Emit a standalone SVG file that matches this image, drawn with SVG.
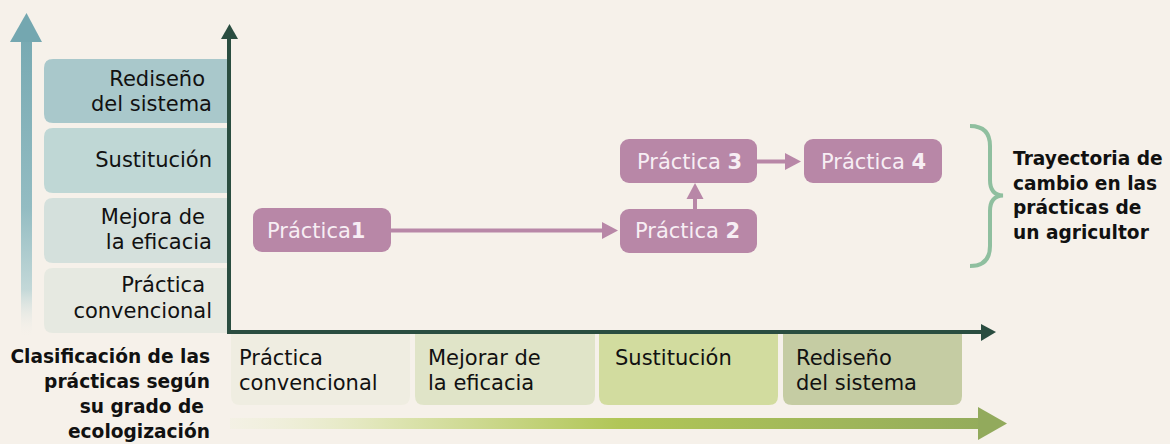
<svg xmlns="http://www.w3.org/2000/svg" width="1170" height="444" viewBox="0 0 1170 444">
<defs>
<linearGradient id="gTeal" x1="0" y1="13" x2="0" y2="338" gradientUnits="userSpaceOnUse">
<stop offset="0" stop-color="#74a7b0"/>
<stop offset="0.6" stop-color="#93bcc2"/>
<stop offset="0.85" stop-color="#c3d8d8"/>
<stop offset="1" stop-color="#f6f1ea" stop-opacity="0"/>
</linearGradient>
<linearGradient id="gGreen" x1="230" y1="0" x2="1007" y2="0" gradientUnits="userSpaceOnUse">
<stop offset="0" stop-color="#eef0d8" stop-opacity="0.3"/>
<stop offset="0.2" stop-color="#dfe5b5"/>
<stop offset="0.5" stop-color="#b1c657"/>
<stop offset="1" stop-color="#92aa5c"/>
</linearGradient>
<style>
text{font-family:"DejaVu Sans","Open Sans","Liberation Sans",sans-serif;fill:#111;}
.lbl{font-size:21px;}
.end{text-anchor:end;}
.bold{font-weight:bold;font-size:18.6px;}
.pk rect{fill:#b887a7;}
.pk text{fill:#f7eef4;font-size:21px;}
.pk tspan.n{font-weight:bold;}
.con{stroke:#b887a7;stroke-width:4;fill:none;}
.axis{stroke:#2a4d40;stroke-width:4;fill:none;}
</style>
</defs>
<rect width="1170" height="444" fill="#f6f1ea"/>

<!-- left gradient arrow -->
<g id="vert-arrow">
<rect x="21" y="40" width="11" height="298" fill="url(#gTeal)"/>
<path d="M10,42 L26.5,13 L42,42 Z" fill="#74a7b0"/>
</g>

<!-- left classification boxes -->
<g id="lv-redisenio">
<path d="M231,59 V123 H53 Q44,123 44,114 V68 Q44,59 53,59 Z" fill="#a9c8cb"/>
<text class="lbl end" x="205" y="86">Rediseño</text>
<text class="lbl end" x="212" y="111">del sistema</text>
</g>
<g id="lv-sustitucion">
<path d="M231,128 V193 H53 Q44,193 44,184 V137 Q44,128 53,128 Z" fill="#bfd7d5"/>
<text class="lbl end" x="212" y="167">Sustitución</text>
</g>
<g id="lv-mejora">
<path d="M231,198 V263 H53 Q44,263 44,254 V207 Q44,198 53,198 Z" fill="#d4e0dc"/>
<text class="lbl end" x="205" y="224">Mejora de</text>
<text class="lbl end" x="212" y="249">la eficacia</text>
</g>
<g id="lv-convencional">
<path d="M231,268 V333 H53 Q44,333 44,324 V277 Q44,268 53,268 Z" fill="#e6e9e1"/>
<text class="lbl end" x="205" y="292">Práctica</text>
<text class="lbl end" x="212" y="318">convencional</text>
</g>

<!-- bottom boxes -->
<g id="h-convencional">
<path d="M231,332 H410 V396 Q410,405 401,405 H240 Q231,405 231,396 Z" fill="#efede1"/>
<text class="lbl" x="239" y="365">Práctica</text>
<text class="lbl" x="239" y="390">convencional</text>
</g>
<g id="h-mejora">
<path d="M415,332 H595 V396 Q595,405 586,405 H424 Q415,405 415,396 Z" fill="#e0e4c8"/>
<text class="lbl" x="428" y="365">Mejorar de</text>
<text class="lbl" x="428" y="390">la eficacia</text>
</g>
<g id="h-sustitucion">
<path d="M599,332 H778 V396 Q778,405 769,405 H608 Q599,405 599,396 Z" fill="#d2dc9f"/>
<text class="lbl" x="615" y="365">Sustitución</text>
</g>
<g id="h-redisenio">
<path d="M783,332 H962 V396 Q962,405 953,405 H792 Q783,405 783,396 Z" fill="#c5cca3"/>
<text class="lbl" x="796" y="365">Rediseño</text>
<text class="lbl" x="796" y="390">del sistema</text>
</g>

<!-- axes -->
<g id="axes">
<path class="axis" d="M229,38 L229,332 L983,332"/>
<path d="M221,39 L229.5,24 L238,39 Z" fill="#2a4d40"/>
<path d="M981,324 L996,332 L981,341 Z" fill="#2a4d40"/>
</g>

<!-- bottom gradient arrow -->
<g id="horiz-arrow">
<rect x="230" y="418" width="750" height="11" fill="url(#gGreen)"/>
<path d="M978,407 L1007,423.5 L978,440 Z" fill="#92aa5c"/>
</g>

<!-- left bottom label -->
<g id="caption-left">
<text class="bold end" x="210" y="363">Clasificación de las</text>
<text class="bold end" x="210" y="388">prácticas según</text>
<text class="bold end" x="204" y="413">su grado de</text>
<text class="bold end" x="210" y="438">ecologización</text>
</g>

<!-- connectors -->
<g id="connectors">
<line class="con" x1="391" y1="230.5" x2="602" y2="230.5"/>
<path d="M602,222 L618,230.5 L602,239 Z" fill="#b887a7"/>
<line class="con" x1="695" y1="209" x2="695" y2="198"/>
<path d="M686.5,199 L695,183 L703.5,199 Z" fill="#b887a7"/>
<line class="con" x1="757" y1="161.5" x2="786" y2="161.5"/>
<path d="M785,153 L801,161.5 L785,170 Z" fill="#b887a7"/>
</g>

<!-- practice nodes -->
<g id="p1" class="pk">
<rect x="253" y="208" width="138" height="44" rx="9"/>
<text x="267" y="238">Práctica<tspan class="n">1</tspan></text>
</g>
<g id="p2" class="pk">
<rect x="620" y="209" width="137" height="44" rx="9"/>
<text x="635" y="238">Práctica <tspan class="n">2</tspan></text>
</g>
<g id="p3" class="pk">
<rect x="620" y="139" width="137" height="44" rx="9"/>
<text x="637" y="169">Práctica <tspan class="n">3</tspan></text>
</g>
<g id="p4" class="pk">
<rect x="804" y="139" width="138" height="44" rx="9"/>
<text x="821" y="169">Práctica <tspan class="n">4</tspan></text>
</g>

<!-- bracket -->
<g id="bracket">
<path d="M970,126 Q990,126 990,146 L990,180 Q990,195 1003,195.5 Q990,196 990,211 L990,246 Q990,266 970,266" fill="none" stroke="#8fbf9f" stroke-width="4"/>
<text class="bold" x="1013" y="165">Trayectoria de</text>
<text class="bold" x="1013" y="190">cambio en las</text>
<text class="bold" x="1013" y="214">prácticas de</text>
<text class="bold" x="1013" y="239">un agricultor</text>
</g>
</svg>
